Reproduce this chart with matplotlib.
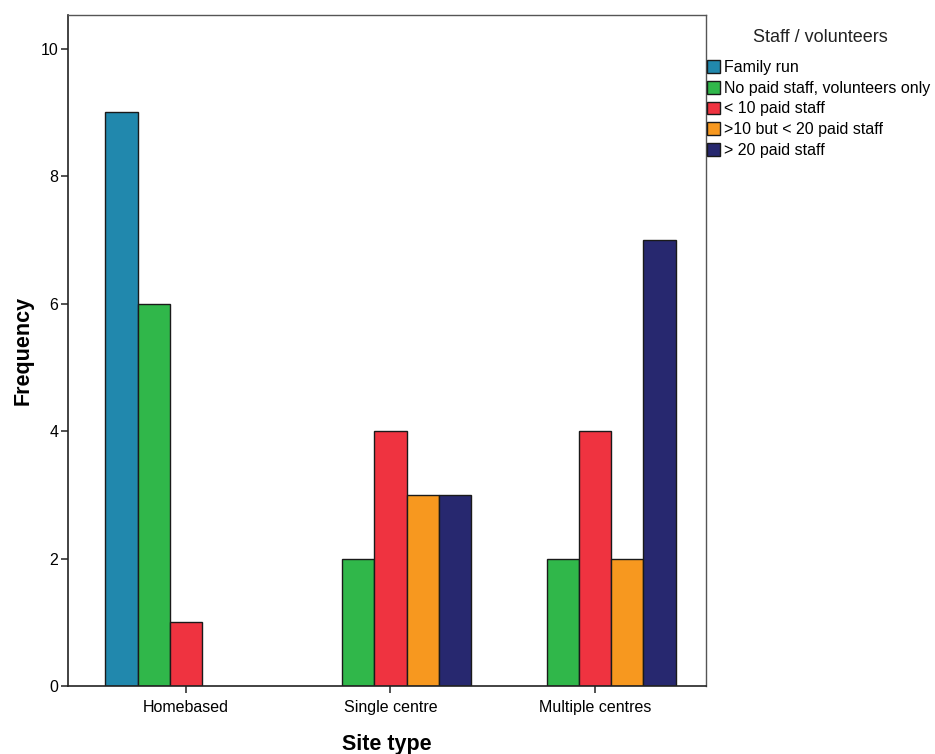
import matplotlib
matplotlib.use("Agg")
import matplotlib.pyplot as plt
import numpy as np
from matplotlib.patches import Patch

plt.rcParams['font.family'] = ['Liberation Sans', 'DejaVu Sans']

categories = ["Homebased", "Single centre", "Multiple centres"]
series_names = ["Family run", "No paid staff, volunteers only", "< 10 paid staff",
                ">10 but < 20 paid staff", "> 20 paid staff"]
family_run = [9, 0, 0]
no_paid = [6, 2, 2]
lt10 = [1, 4, 4]
b10_20 = [0, 3, 2]
gt20 = [0, 3, 7]
series_values = [family_run, no_paid, lt10, b10_20, gt20]
colors = ["#2188ad", "#30b74a", "#ef3340", "#f7981f", "#27286f"]

fig = plt.figure(figsize=(9.35, 7.54), dpi=100)
ax = fig.add_axes([68/935, 68/754, (706-68)/935, (686-15)/754])

x = np.arange(len(categories))
w = 0.158
for i, (vals, c) in enumerate(zip(series_values, colors)):
    pos = x + (i - 2) * w
    for p, v in zip(pos, vals):
        if v > 0:
            ax.bar(p, v, width=w, color=c, edgecolor="#1a1a1a", linewidth=1.0, align="center")

ax.set_xlim(-0.577, 2.543)
ax.set_ylim(0, 10.53)
ax.set_yticks([0, 2, 4, 6, 8, 10])
ax.set_xticks(x)
ax.set_xticklabels(categories, fontsize=11.5)
ax.tick_params(axis='y', labelsize=11.5, length=5, width=1.2, color="#333333", pad=2)
ax.tick_params(axis='x', length=5, width=1.2, color="#333333", pad=5)
ax.set_ylabel("Frequency", fontsize=15.5, fontweight="bold", labelpad=5)
ax.set_xlabel("Site type", fontsize=15.5, fontweight="bold", labelpad=14)
for s in ["left", "bottom"]:
    ax.spines[s].set_color("#222222")
    ax.spines[s].set_linewidth(1.2)
for s in ["top", "right"]:
    ax.spines[s].set_color("#555555")
    ax.spines[s].set_linewidth(1.0)

handles = [Patch(facecolor=c, edgecolor="#1a1a1a", linewidth=1.0) for c in colors]
fig.text(820/935, 1 - 37/754, "Staff / volunteers", fontsize=13, ha="center", va="center", color="#222222")
leg = fig.legend(handles, series_names, loc="upper left", bbox_to_anchor=(707/935, 1 - 60/754),
                 frameon=False, fontsize=11.5, handlelength=0.8, handleheight=0.85,
                 handletextpad=0.25, labelspacing=0.36, borderaxespad=0, borderpad=0)

fig.savefig("out.png", dpi=100)
